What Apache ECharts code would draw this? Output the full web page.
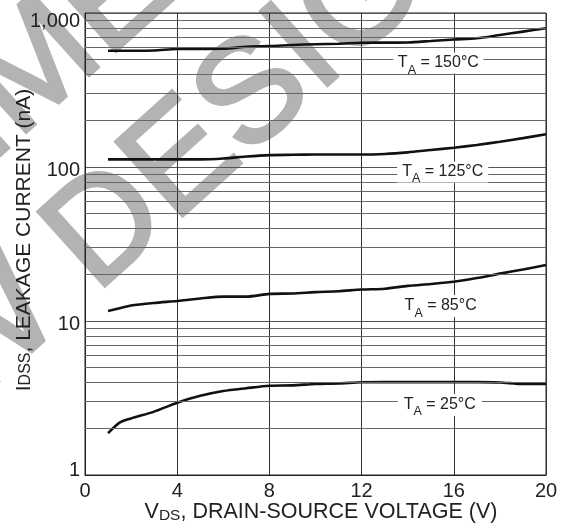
<!DOCTYPE html>
<html><head><meta charset="utf-8">
<script src="https://cdn.jsdelivr.net/npm/echarts@6/dist/echarts.min.js"></script>
<style>html,body{margin:0;padding:0;background:#fff}#c{width:565px;height:525px}</style>
</head><body><div id="c"></div>
<script>
const FONT = "'Liberation Sans', Arial, sans-serif";
// V_DS (V)
const vds = [1, 1.5, 2, 3, 4, 5, 6, 7, 8, 9, 10, 11, 12, 13, 14, 15, 16, 17, 18, 19, 20];
// I_DSS (nA)
const t150 = [569, 569, 569, 571, 584, 585, 586, 604, 609, 620, 627, 632, 641, 642, 644, 658, 673, 685, 720, 757, 796];
const t125 = [112, 112, 112, 112, 112, 112, 113.5, 117, 119.5, 120, 120.5, 120.5, 120.5, 121.5, 124.5, 129, 133.5, 139, 146, 154, 163];
const t85 = [11.6, 12.1, 12.6, 13.1, 13.5, 14.0, 14.4, 14.4, 15.0, 15.1, 15.4, 15.6, 16.0, 16.2, 16.9, 17.4, 18.0, 19.0, 20.3, 21.6, 23.1];
const t25 = [1.87, 2.19, 2.33, 2.58, 2.95, 3.27, 3.51, 3.66, 3.80, 3.82, 3.90, 3.93, 4.00, 4.01, 4.01, 4.01, 4.01, 4.01, 3.99, 3.90, 3.90];
const seriesNames = ['150', '125', '85', '25'];
const seriesValues = [t150, t125, t85, t25];
// curve label anchors [V_DS, I_DSS]
const labelAnchors = [[15.33, 473], [15.52, 92.8], [15.43, 12.5], [15.39, 2.85]];
const labelBoxes = [[90, 21], [91, 21], [82, 22], [84, 22]];
// axis ticks
const xTicks = { min: 0, max: 20, interval: 4 };
const yTickLabels = ['1', '10', '100', '1,000'];
const yMinor = [2,3,4,5,6,7,8,9,20,30,40,50,60,70,80,90,200,300,400,500,600,700,800,900];

const chart = echarts.init(document.getElementById('c'), null, { renderer: 'canvas' });

const curveSeries = seriesNames.map((n, i) => ({
  name: n + '°C',
  type: 'line',
  z: 3,
  data: vds.map((x, j) => [x, seriesValues[i][j]]),
  showSymbol: false,
  symbol: 'none',
  smooth: 0.25,
  lineStyle: { color: '#111', width: 2.6 },
  silent: true,
  markPoint: {
    silent: true,
    animation: false,
    data: [{
      coord: labelAnchors[i],
      symbol: 'rect',
      symbolSize: labelBoxes[i],
      itemStyle: { color: '#fff' },
      label: {
        show: true,
        position: 'inside',
        formatter: '{t|T}{s|A}{t| = ' + n + '°C}',
        rich: {
          t: { fontSize: 16, lineHeight: 18, color: '#222', fontFamily: FONT },
          s: { fontSize: 12.5, lineHeight: 18, color: '#222', fontFamily: FONT, padding: [14, 0, 0, 0] }
        }
      }
    }]
  }
}));

const theta = 42 * Math.PI / 180;
const wmStyle = (txt) => ({
  text: txt,
  fontSize: 145,
  fontWeight: 'normal',
  fontFamily: FONT,
  fill: '#b3b3b3',
  stroke: '#b3b3b3',
  lineWidth: 3.5,
  align: 'center', verticalAlign: 'middle',
  textAlign: 'center', textVerticalAlign: 'middle'
});

chart.setOption({
  animation: false,
  backgroundColor: '#fff',
  graphic: [
    { type: 'text', z: -10, x: 6.4, y: 320.6, rotation: theta, silent: true, style: wmStyle('FOR NEW DESIGN') },
    { type: 'text', z: -10, x: -105.3, y: 196.5, rotation: theta, silent: true, style: wmStyle('NOT RECOMMENDED') }
  ],
  grid: { left: 85, right: 19, top: 13, bottom: 50, show: true, borderColor: '#222', borderWidth: 1, backgroundColor: 'transparent', outerBoundsMode: 'none', containLabel: false },
  xAxis: {
    type: 'value', min: xTicks.min, max: xTicks.max, interval: xTicks.interval,
    axisLine: { lineStyle: { color: '#222', width: 1 } },
    axisTick: { show: false },
    splitLine: { show: true, lineStyle: { color: '#333', width: 1 } },
    axisLabel: { fontSize: 20, color: '#222', fontFamily: FONT, margin: 6 },
    name: '{v|V}{s|DS}{r|, DRAIN-SOURCE VOLTAGE (V)}',
    nameLocation: 'middle', nameGap: 25, nameMoveOverlap: false,
    nameTextStyle: {
      padding: [0, 0, 0, 11],
      rich: {
        v: { fontSize: 21.5, lineHeight: 24, color: '#222', fontFamily: FONT },
        s: { fontSize: 15.5, lineHeight: 24, color: '#222', fontFamily: FONT, padding: [8, 0, 0, 0] },
        r: { fontSize: 21.5, lineHeight: 24, color: '#222', fontFamily: FONT }
      }
    }
  },
  yAxis: {
    type: 'log', logBase: 10, min: 1, max: 1000,
    axisLine: { show: true, lineStyle: { color: '#222', width: 1 } },
    axisTick: { show: false },
    splitLine: { show: true, lineStyle: { color: '#555', width: 1 } },
    axisLabel: {
      margin: 5,
      formatter: (v, idx) => {
        const k = Math.round(Math.log10(v));
        const s = yTickLabels[k];
        if (k === 3) return '{t|' + s + '}';
        if (k === 0) return '{b|' + s + '}';
        return '{m|' + s + '}';
      },
      rich: {
        t: { fontSize: 20, color: '#222', fontFamily: FONT, padding: [16, 0, 0, 0] },
        m: { fontSize: 20, color: '#222', fontFamily: FONT, padding: [6, 0, 0, 0] },
        b: { fontSize: 20, color: '#222', fontFamily: FONT, padding: [0, 0, 10, 0] }
      }
    },
    name: '{i|I}{d|DSS}{r|, LEAKAGE CURRENT (nA)}',
    nameLocation: 'middle', nameGap: 49, nameRotate: 90, nameMoveOverlap: false,
    nameTextStyle: {
      padding: [0, 0, 0, 8],
      rich: {
        i: { fontSize: 21, lineHeight: 24, color: '#222', fontFamily: FONT },
        d: { fontSize: 16, lineHeight: 24, color: '#222', fontFamily: FONT, padding: [3, 0, 0, 0] },
        r: { fontSize: 21, lineHeight: 24, color: '#222', fontFamily: FONT }
      }
    }
  },
  series: [
    {
      type: 'line', z: 1, silent: true, symbol: 'none',
      data: [[0, 1]],
      lineStyle: { opacity: 0 },
      markLine: {
        silent: true, symbol: 'none', animation: false,
        label: { show: false },
        lineStyle: { color: '#666', width: 1, type: 'solid' },
        data: yMinor.map(v => ({ yAxis: v }))
      }
    }
  ].concat(curveSeries)
});
</script>
</body></html>
